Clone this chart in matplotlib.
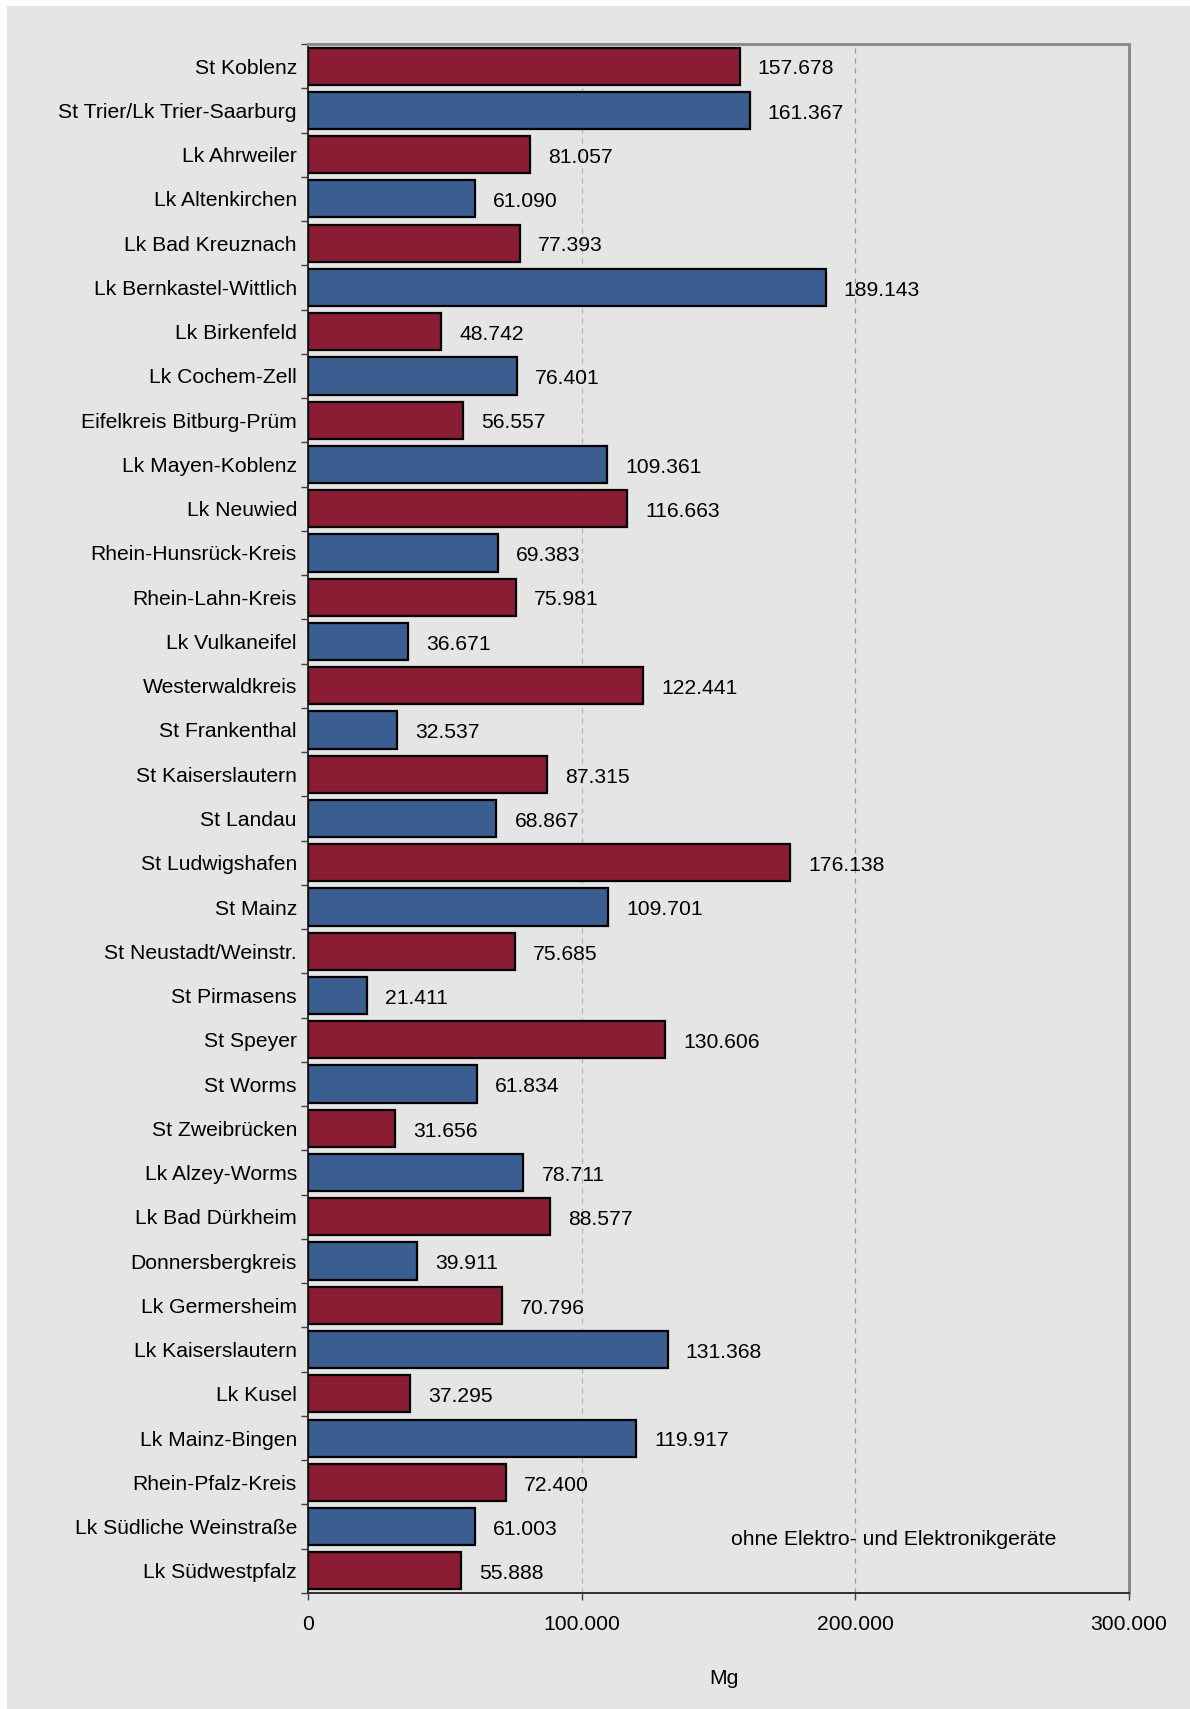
import matplotlib.pyplot as plt
from matplotlib.patches import Rectangle
from matplotlib.ticker import FuncFormatter, FixedLocator

FS = 15.2
plt.rcParams.update({
    "font.family": ["Liberation Sans", "DejaVu Sans"],
    "font.size": FS,
})

regions = [
    "St Koblenz", "St Trier/Lk Trier-Saarburg", "Lk Ahrweiler", "Lk Altenkirchen",
    "Lk Bad Kreuznach", "Lk Bernkastel-Wittlich", "Lk Birkenfeld", "Lk Cochem-Zell",
    "Eifelkreis Bitburg-Prüm", "Lk Mayen-Koblenz", "Lk Neuwied", "Rhein-Hunsrück-Kreis",
    "Rhein-Lahn-Kreis", "Lk Vulkaneifel", "Westerwaldkreis", "St Frankenthal",
    "St Kaiserslautern", "St Landau", "St Ludwigshafen", "St Mainz",
    "St Neustadt/Weinstr.", "St Pirmasens", "St Speyer", "St Worms",
    "St Zweibrücken", "Lk Alzey-Worms", "Lk Bad Dürkheim", "Donnersbergkreis",
    "Lk Germersheim", "Lk Kaiserslautern", "Lk Kusel", "Lk Mainz-Bingen",
    "Rhein-Pfalz-Kreis", "Lk Südliche Weinstraße", "Lk Südwestpfalz",
]
tonnes = [
    157678, 161367, 81057, 61090, 77393, 189143, 48742, 76401, 56557, 109361,
    116663, 69383, 75981, 36671, 122441, 32537, 87315, 68867, 176138, 109701,
    75685, 21411, 130606, 61834, 31656, 78711, 88577, 39911, 70796, 131368,
    37295, 119917, 72400, 61003, 55888,
]
x_ticks = [0, 100000, 200000, 300000]
note = "ohne Elektro- und Elektronikgeräte"

RED = "#8a1c33"
BLUE = "#3a5e8f"
PANEL = "#e5e5e5"


def de_thousands(value, _=None):
    return f"{int(round(value)):,}".replace(",", ".")


fig = plt.figure(figsize=(11.9, 17.09), dpi=100, facecolor="white")
fig.patches.append(Rectangle((7 / 1190, 0), 1, 1 - 6 / 1709, transform=fig.transFigure,
                             facecolor=PANEL, edgecolor="none", zorder=-10))

ax = fig.add_axes([308 / 1190, 1 - 1593 / 1709, (1129 - 308) / 1190, (1593 - 44) / 1709])
ax.set_facecolor(PANEL)

ypos = list(range(len(regions)))
colors = [RED if i % 2 == 0 else BLUE for i in ypos]
bars = ax.barh(ypos, tonnes, height=0.84, color=colors, edgecolor="black",
               linewidth=1.6, zorder=3)
for bar, val in zip(bars, tonnes):
    ax.annotate(de_thousands(val), xy=(bar.get_width(), bar.get_y() + bar.get_height() / 2),
                xytext=(13, -2), textcoords="offset points", ha="left", va="center",
                fontsize=FS, zorder=4)

ax.set_ylim(len(regions) - 0.5, -0.5)
ax.set_xlim(0, 300000)
ax.set_yticks(ypos, regions)
ax.yaxis.set_minor_locator(FixedLocator([i + 0.5 for i in range(-1, len(regions))]))
ax.tick_params(axis="y", which="major", length=0, pad=8)
ax.tick_params(axis="y", which="minor", length=5, width=1, color="#404040")
ax.set_xticks(x_ticks)
ax.xaxis.set_major_formatter(FuncFormatter(de_thousands))
ax.tick_params(axis="x", length=5, width=1, color="#404040", pad=11)
ax.set_xlabel("Mg")
ax.xaxis.set_label_coords(0.507, -0.049)

ax.axvline(x_ticks[1], color="#b4b4b4", linestyle=(0, (4, 4)), linewidth=0.9, zorder=1)
ax.axvline(x_ticks[2], color="#999999", linestyle=(0, (4, 4)), linewidth=0.9, zorder=1)

for side in ("top", "right"):
    ax.spines[side].set_color("#8c8c8c")
    ax.spines[side].set_linewidth(2.2)
for side in ("bottom", "left"):
    ax.spines[side].set_color("#303030")
    ax.spines[side].set_linewidth(1.4)

ax.text(0.713, 0.0345, note, transform=ax.transAxes, ha="center", va="center", fontsize=FS)

fig.savefig("out.png", dpi=100, facecolor=fig.get_facecolor())
